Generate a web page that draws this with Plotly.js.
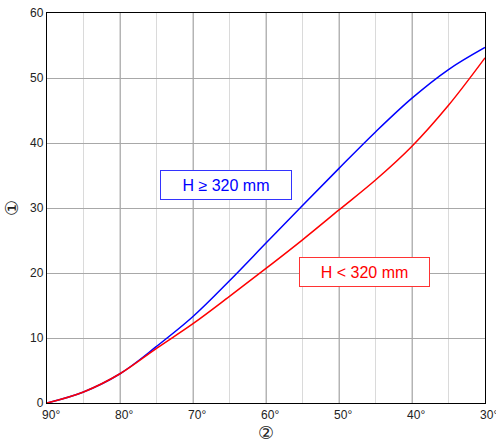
<!DOCTYPE html>
<html>
<head>
<meta charset="utf-8">
<script src="https://cdn.plot.ly/plotly-3.0.1.min.js"></script>
<style>html,body{margin:0;padding:0;background:#fff;}#chart{width:496px;height:444px;}</style>
</head>
<body>
<div id="chart"></div>
<script>
const angles = [90, 85, 80, 75, 70, 65, 60, 55, 50, 45, 40, 35, 30];
const highH = [0, 1.7, 4.5, 8.7, 13.3, 18.8, 24.6, 30.4, 36.1, 41.7, 46.9, 51.3, 54.7];
const lowH  = [0, 1.7, 4.5, 8.4, 12.2, 16.4, 20.7, 25.1, 29.7, 34.3, 39.5, 45.8, 53.1];
const xTickVals = [90, 80, 70, 60, 50, 40, 30];
const xTickText = ["90°", "80°", "70°", "60°", "50°", "40°", "30°"];
const yTickVals = [0, 10, 20, 30, 40, 50, 60];
const labelHigh = "H ≥ 320 mm";
const labelLow = "H < 320 mm";
const yTitle = "①";
const xTitle = "②";

const traces = [
  {x: angles, y: highH, mode: "lines", line: {color: "#0000ff", width: 1.5, shape: "spline", smoothing: 1}, hoverinfo: "skip"},
  {x: angles, y: lowH, mode: "lines", line: {color: "#ff0000", width: 1.5, shape: "spline", smoothing: 1}, hoverinfo: "skip"}
];

// pad labels on the left so the number (not the degree sign) sits under the grid line
const padded = xTickText.map(t => "\u2002\u2009" + t);

const layout = {
  width: 496, height: 444,
  margin: {l: 46.5, r: 11.3, t: 12.5, b: 41},
  paper_bgcolor: "#fff", plot_bgcolor: "#fff",
  showlegend: false,
  font: {family: "Liberation Sans, Arial, sans-serif", size: 12, color: "#222"},
  xaxis: {
    range: [90, 30], tickvals: xTickVals, ticktext: padded,
    showgrid: true, gridcolor: "#b4b4b4", gridwidth: 1,
    minor: {dtick: 5, tick0: 0, showgrid: true, gridcolor: "#dadada", gridwidth: 1.6, ticks: ""},
    zeroline: false, showline: true, linecolor: "#000", linewidth: 1.2, mirror: true,
    ticks: "", ticklen: 0, ticklabeloverflow: "allow",
    title: {text: xTitle, font: {family: "DejaVu Sans", size: 18, color: "#222"}, standoff: 2}
  },
  yaxis: {
    range: [0, 60], tickvals: yTickVals,
    showgrid: true, gridcolor: "#a8a8a8", gridwidth: 1,
    zeroline: false, showline: true, linecolor: "#000", linewidth: 1.2, mirror: true,
    ticks: "", ticklen: 0,
    title: {text: yTitle, font: {family: "DejaVu Sans", size: 18, color: "#222"}, standoff: 6}
  },
  annotations: [
    {x: 65.5, y: 33.5, xref: "x", yref: "y", text: labelHigh, showarrow: false,
     font: {size: 16, color: "#0000ff"}, bgcolor: "#fff", bordercolor: "#3333ff", borderwidth: 1,
     borderpad: 0, width: 130, height: 28},
    {x: 46.5, y: 20.2, xref: "x", yref: "y", text: labelLow, showarrow: false,
     font: {size: 16, color: "#ff0000"}, bgcolor: "#fff", bordercolor: "#ff3333", borderwidth: 1,
     borderpad: 0, width: 129, height: 28}
  ]
};

Plotly.newPlot("chart", traces, layout, {staticPlot: true, displayModeBar: false});
</script>
</body>
</html>
